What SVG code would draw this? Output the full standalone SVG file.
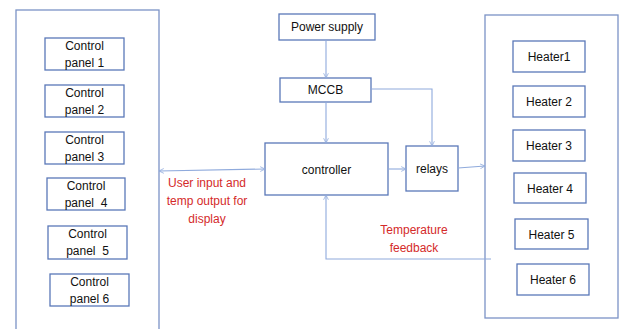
<svg xmlns="http://www.w3.org/2000/svg" width="619" height="329" viewBox="0 0 619 329">
<defs>
<marker id="ah" viewBox="0 0 10 10" refX="9" refY="5" markerWidth="6" markerHeight="6" orient="auto-start-reverse" markerUnits="userSpaceOnUse">
<path d="M1,1 L9,5 L1,9" fill="none" stroke="#8faadc" stroke-width="1.3"/>
</marker>
<style>
.box{fill:#fff;stroke:#5a78b8;stroke-width:1.3}
.big{fill:#fff;stroke:#7b93c6;stroke-width:1.3}
.t{font-family:"Liberation Sans",Arial,sans-serif;font-size:12px;fill:#111;text-anchor:middle}
.r{font-family:"Liberation Sans",Arial,sans-serif;font-size:12px;fill:#d42a2a;text-anchor:middle}
.c{fill:none;stroke:#8faadc;stroke-width:1.1}
</style>
</defs>
<rect width="619" height="329" fill="#fff"/>
<g id="panels-group">
<rect class="big" x="16" y="10" width="143" height="325"/>
</g>
<g id="heaters-group">
<rect class="big" x="485" y="15" width="133" height="303"/>
</g>
<g id="cp1"><rect class="box" x="45" y="38" width="79" height="32"/><text class="t" x="84.5" y="50">Control</text><text class="t" x="84.5" y="67">panel 1</text></g>
<g id="cp2"><rect class="box" x="45" y="85" width="79" height="32"/><text class="t" x="84.5" y="97">Control</text><text class="t" x="84.5" y="114">panel 2</text></g>
<g id="cp3"><rect class="box" x="45" y="132" width="79" height="32"/><text class="t" x="84.5" y="144">Control</text><text class="t" x="84.5" y="161">panel 3</text></g>
<g id="cp4"><rect class="box" x="47" y="178" width="78" height="32"/><text class="t" x="86" y="190">Control</text><text class="t" x="86" y="207" xml:space="preserve">panel  4</text></g>
<g id="cp5"><rect class="box" x="48" y="226" width="79" height="33"/><text class="t" x="87.5" y="238">Control</text><text class="t" x="87.5" y="255" xml:space="preserve">panel  5</text></g>
<g id="cp6"><rect class="box" x="50" y="274" width="79" height="32"/><text class="t" x="89.5" y="286">Control</text><text class="t" x="89.5" y="303">panel 6</text></g>
<g id="power"><rect class="box" x="279" y="14" width="96" height="26"/><text class="t" x="327" y="31">Power supply</text></g>
<g id="mccb"><rect class="box" x="280" y="78" width="91" height="24"/><text class="t" x="325.5" y="94">MCCB</text></g>
<g id="controller"><rect class="box" x="265" y="143" width="123" height="52"/><text class="t" x="326.5" y="174">controller</text></g>
<g id="relays"><rect class="box" x="406" y="146" width="52" height="45"/><text class="t" x="432" y="173">relays</text></g>
<g id="h1"><rect class="box" x="513" y="41" width="72" height="31"/><text class="t" x="549" y="61">Heater1</text></g>
<g id="h2"><rect class="box" x="513" y="86" width="72" height="31"/><text class="t" x="549" y="106">Heater 2</text></g>
<g id="h3"><rect class="box" x="513" y="130" width="72" height="31"/><text class="t" x="549" y="150">Heater 3</text></g>
<g id="h4"><rect class="box" x="514" y="173" width="72" height="30"/><text class="t" x="550" y="193">Heater 4</text></g>
<g id="h5"><rect class="box" x="515" y="219" width="73" height="30"/><text class="t" x="551.5" y="239">Heater 5</text></g>
<g id="h6"><rect class="box" x="517" y="264" width="72" height="31"/><text class="t" x="553" y="284">Heater 6</text></g>
<g id="connectors">
<path class="c" d="M326,40 L326,78" marker-end="url(#ah)"/>
<path class="c" d="M326,102 L326,143" marker-end="url(#ah)"/>
<path class="c" d="M371,89 L432,89 L432,146" marker-end="url(#ah)"/>
<path class="c" d="M388,169 L406,169" marker-end="url(#ah)"/>
<path class="c" d="M458,168 L485,166" marker-end="url(#ah)"/>
<path class="c" d="M159,171 L265,169" marker-start="url(#ah)" marker-end="url(#ah)"/>
<path class="c" d="M491,259 L326,259 L326,195" marker-end="url(#ah)"/>
</g>
<g id="labels">
<text class="r" x="207" y="187">User input and</text>
<text class="r" x="207" y="205">temp output for</text>
<text class="r" x="207" y="223">display</text>
<text class="r" x="414" y="234">Temperature</text>
<text class="r" x="414" y="252">feedback</text>
</g>
</svg>
